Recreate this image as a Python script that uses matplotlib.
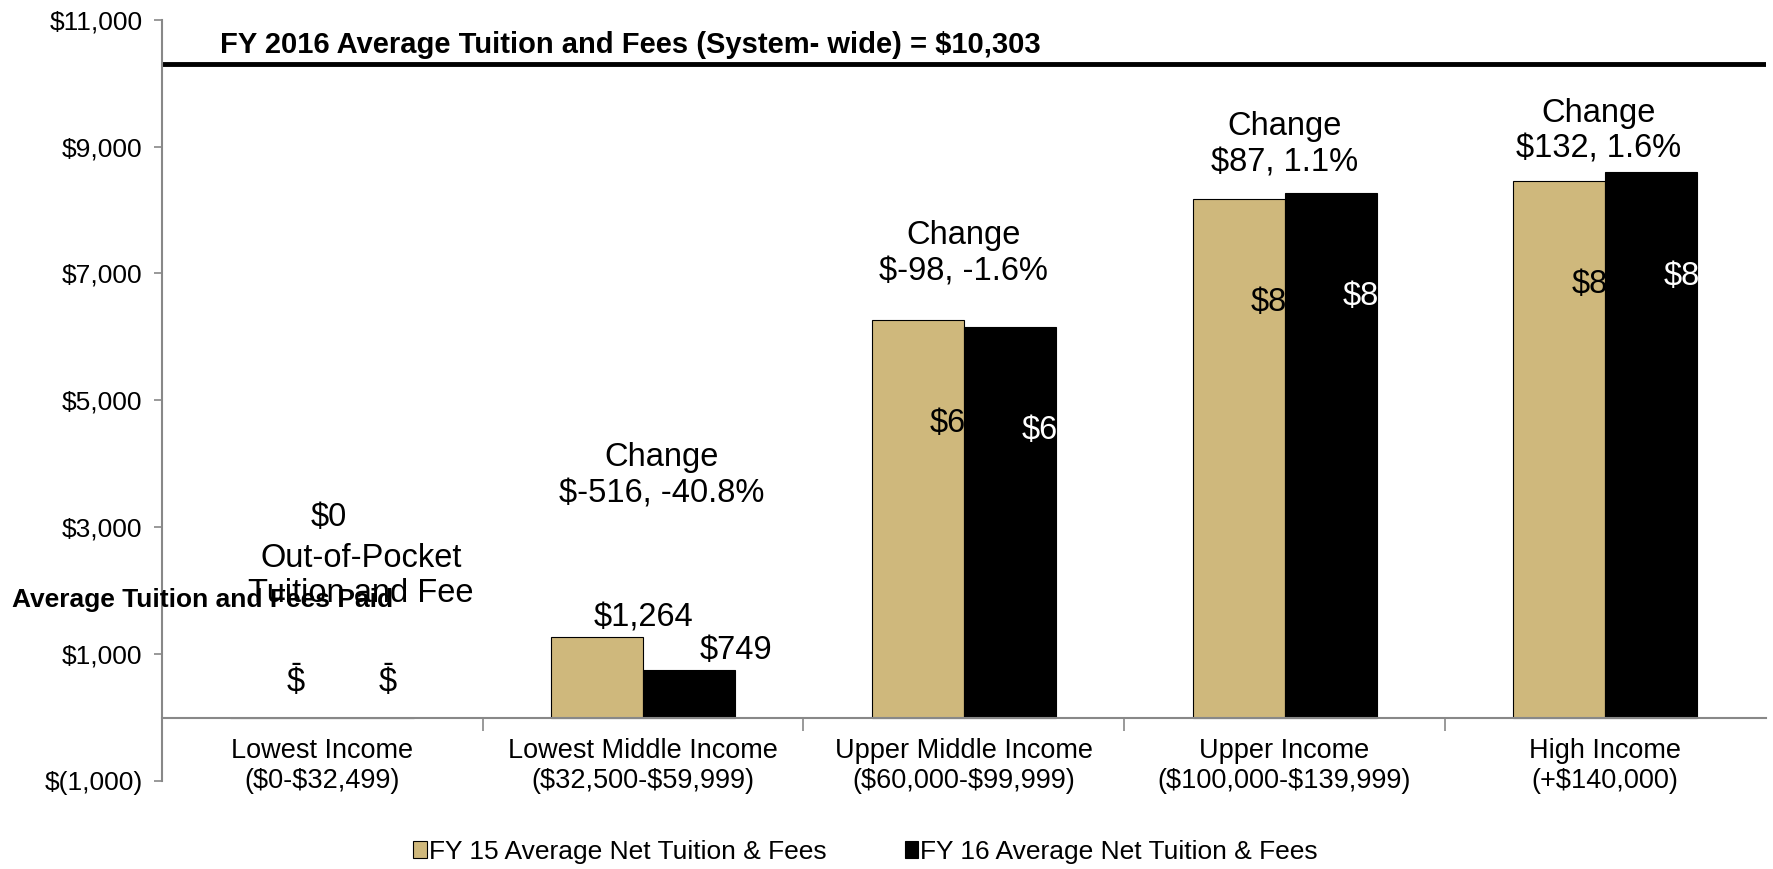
import matplotlib.pyplot as plt
import numpy as np

plt.rcParams['font.family'] = ['Liberation Sans', 'DejaVu Sans']
plt.rcParams['text.parse_math'] = False

categories = ['Lowest Income\n($0-$32,499)', 'Lowest Middle Income\n($32,500-$59,999)',
              'Upper Middle Income\n($60,000-$99,999)', 'Upper Income\n($100,000-$139,999)',
              'High Income\n(+$140,000)']
fy15 = [0, 1264, 6260, 8180, 8460]
fy16 = [0, 749, 6162, 8267, 8592]
changes = [None, '$-516, -40.8%', '$-98, -1.6%', '$87, 1.1%', '$132, 1.6%']
system_avg = 10303

# where the "Change" notes sit (placed by hand in the original)
change_y = [None, 3813, 7313, 9027, 9241]
change_dx = [None, 0.058, 0.0, 0.0, -0.02]

gold = '#CFB87C'
x = np.arange(len(categories))
w = 0.287
fs = 23.5

fig = plt.figure(figsize=(17.74, 8.69), dpi=100)
ax = fig.add_axes([0.0913, 0.1013, 0.904, 0.876])

b15 = ax.bar(x - w/2, fy15, w, color=gold, edgecolor='black', linewidth=0.8,
             label='FY 15 Average Net Tuition & Fees')
b16 = ax.bar(x + w/2, fy16, w, color='black', edgecolor='black', linewidth=0.8,
             label='FY 16 Average Net Tuition & Fees')

ax.set_ylim(-1000, 11000)
ax.set_xlim(-0.5, len(categories) - 0.5)
yt = np.arange(-1000, 11001, 2000)
ax.set_yticks(yt)
ax.set_yticklabels(['$(1,000)' if v < 0 else '${:,}'.format(v) for v in yt])
ax.tick_params(axis='y', labelsize=19, length=6, color='#888888', width=1.2, pad=8)

ax.set_xticks(x)
ax.set_xticks(np.arange(0.5, len(categories) - 0.5, 1), minor=True)
ax.tick_params(axis='x', which='major', length=0, pad=15, labelsize=19.5)
ax.tick_params(axis='x', which='minor', length=9, color='#888888', width=1.2)
ax.set_xticklabels(categories, linespacing=1.18)

for s in ['top', 'right']:
    ax.spines[s].set_visible(False)
ax.spines['bottom'].set_position(('data', 0))
ax.spines['bottom'].set_color('#888888')
ax.spines['bottom'].set_linewidth(1.5)
ax.spines['left'].set_color('#888888')
ax.spines['left'].set_linewidth(1.5)

ax.axhline(system_avg, color='black', linewidth=3.5)
ax.text(0.036, 10607, 'FY 2016 Average Tuition and Fees (System- wide) = ${:,}'.format(system_avg),
        transform=ax.get_yaxis_transform(), fontsize=21, fontweight='bold', va='center')

# value labels
for i in range(len(categories)):
    if fy15[i] == 0:
        for xx in (x[i] - w/2 + 0.06, x[i] + w/2 + 0.06):
            ax.text(xx, 550, '$', fontsize=fs, ha='center', va='center')
            ax.text(xx, 830, '-', fontsize=fs, ha='center', va='center')
    elif fy15[i] < 3000:
        ax.text(x[i] - w/2 + 0.146, fy15[i] + 310, '${:,}'.format(fy15[i]), fontsize=fs, ha='center', va='center')
        ax.text(x[i] + w/2 + 0.146, fy16[i] + 310, '${:,}'.format(fy16[i]), fontsize=fs, ha='center', va='center')
    else:
        t = ax.text(x[i] - w + 0.63*w, fy15[i] - 1640, '${:,}'.format(fy15[i]), fontsize=fs,
                    ha='left', va='center', color='black')
        t.set_clip_path(b15[i])
        t = ax.text(x[i] + 0.63*w, fy16[i] - 1640, '${:,}'.format(fy16[i]), fontsize=fs,
                    ha='left', va='center', color='white')
        t.set_clip_path(b16[i])

for i, c in enumerate(changes):
    if c is None:
        continue
    ax.text(x[i] + change_dx[i], change_y[i], 'Change\n' + c, fontsize=fs, ha='center', va='center', linespacing=1.22)

ax.text(x[0] + 0.02, 3150, '$0', fontsize=fs, ha='center', va='center')
ax.text(x[0] + 0.12, 2230, 'Out-of-Pocket\nTuition and Fee', fontsize=fs, ha='center', va='center', linespacing=1.18)

fig.text(0.007, 0.31, 'Average Tuition and Fees Paid', fontsize=19, fontweight='bold', va='center')

fig.legend(loc='center', bbox_to_anchor=(0.488, 0.02), ncol=2, frameon=False, fontsize=19,
           handlelength=0.5, handleheight=0.6, handletextpad=0.1, columnspacing=2.95)

fig.savefig('out.png', dpi=100)
